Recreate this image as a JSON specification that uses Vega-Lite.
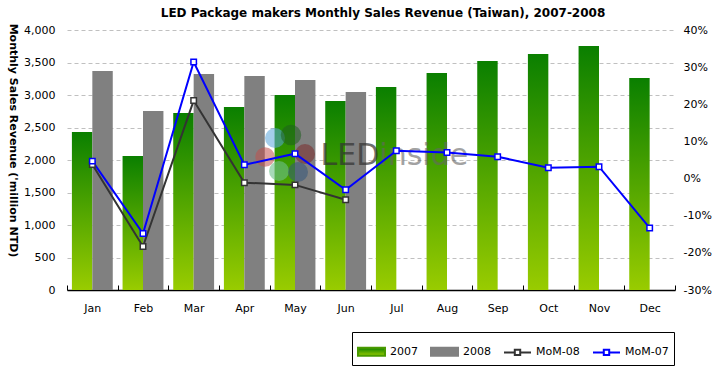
{
  "$schema": "https://vega.github.io/schema/vega-lite/v6.json",
  "width": 608,
  "height": 260,
  "autosize": {"type": "none"},
  "padding": {"left": 67, "top": 30, "right": 45, "bottom": 84},
  "background": "white",
  "config": {
    "font": "DejaVu Sans",
    "view": {"stroke": null},
    "axis": {"labelFont": "DejaVu Sans", "labelFontSize": 11, "labelColor": "#000000", "titleFont": "DejaVu Sans"}
  },
  "title": {
    "text": "LED Package makers Monthly Sales Revenue (Taiwan), 2007-2008",
    "fontSize": 12,
    "fontWeight": "bold",
    "color": "#000000",
    "anchor": "middle",
    "frame": "group",
    "dx": 12,
    "offset": 3
  },
  "datasets": {
    "bars": [
      {"month": "Jan", "series": "2007", "revenue": 2431},
      {"month": "Feb", "series": "2007", "revenue": 2062},
      {"month": "Mar", "series": "2007", "revenue": 2723},
      {"month": "Apr", "series": "2007", "revenue": 2815},
      {"month": "May", "series": "2007", "revenue": 3000},
      {"month": "Jun", "series": "2007", "revenue": 2908},
      {"month": "Jul", "series": "2007", "revenue": 3123},
      {"month": "Aug", "series": "2007", "revenue": 3338},
      {"month": "Sep", "series": "2007", "revenue": 3523},
      {"month": "Oct", "series": "2007", "revenue": 3631},
      {"month": "Nov", "series": "2007", "revenue": 3754},
      {"month": "Dec", "series": "2007", "revenue": 3262},
      {"month": "Jan", "series": "2008", "revenue": 3369},
      {"month": "Feb", "series": "2008", "revenue": 2754},
      {"month": "Mar", "series": "2008", "revenue": 3323},
      {"month": "Apr", "series": "2008", "revenue": 3292},
      {"month": "May", "series": "2008", "revenue": 3231},
      {"month": "Jun", "series": "2008", "revenue": 3046}
    ],
    "mom": [
      {"month": "Jan", "series": "MoM-08", "pct": 0.038},
      {"month": "Feb", "series": "MoM-08", "pct": -0.183},
      {"month": "Mar", "series": "MoM-08", "pct": 0.210},
      {"month": "Apr", "series": "MoM-08", "pct": -0.011},
      {"month": "May", "series": "MoM-08", "pct": -0.017},
      {"month": "Jun", "series": "MoM-08", "pct": -0.057},
      {"month": "Jan", "series": "MoM-07", "pct": 0.047},
      {"month": "Feb", "series": "MoM-07", "pct": -0.148},
      {"month": "Mar", "series": "MoM-07", "pct": 0.314},
      {"month": "Apr", "series": "MoM-07", "pct": 0.037},
      {"month": "May", "series": "MoM-07", "pct": 0.067},
      {"month": "Jun", "series": "MoM-07", "pct": -0.030},
      {"month": "Jul", "series": "MoM-07", "pct": 0.075},
      {"month": "Aug", "series": "MoM-07", "pct": 0.070},
      {"month": "Sep", "series": "MoM-07", "pct": 0.059},
      {"month": "Oct", "series": "MoM-07", "pct": 0.029},
      {"month": "Nov", "series": "MoM-07", "pct": 0.032},
      {"month": "Dec", "series": "MoM-07", "pct": -0.133}
    ]
  },
  "layer": [
    {
      "data": {"name": "bars"},
      "layer": [
        {
          "transform": [{"filter": "datum.series == '2007'"}],
          "mark": {
            "type": "bar",
            "color": {
              "gradient": "linear",
              "x1": 0, "y1": 0, "x2": 0, "y2": 1,
              "stops": [
                {"offset": 0, "color": "#0a7f00"},
                {"offset": 1, "color": "#99cc00"}
              ]
            }
          },
          "encoding": {
            "x": {
              "field": "month",
              "type": "nominal",
              "scale": {"domain": ["Jan","Feb","Mar","Apr","May","Jun","Jul","Aug","Sep","Oct","Nov","Dec"], "paddingInner": 0, "paddingOuter": 0},
              "axis": {
                "title": null,
                "labelAngle": 0,
                "tickBand": "extent",
                "domainColor": "#000000",
                "domainWidth": 1.5,
                "tickColor": "#000000",
                "tickSize": -5,
                "labelPadding": 17,
                "grid": false
              }
            },
            "xOffset": {
              "field": "series",
              "type": "nominal",
              "scale": {"domain": ["2007", "2008"], "paddingInner": 0, "paddingOuter": 0.24}
            },
            "y": {
              "field": "revenue",
              "type": "quantitative",
              "scale": {"domain": [0, 4000]},
              "axis": {
                "title": "Monthly Sales Revenue ('million NTD)",
                "titleAngle": 90,
                "titleX": -55,
                "titleY": 110,
                "titleAlign": "center",
                "titleBaseline": "middle",
                "titleFontSize": 11,
                "titleFontWeight": "bold",
                "titleColor": "#000000",
                "values": [0, 500, 1000, 1500, 2000, 2500, 3000, 3500, 4000],
                "tickCount": 20,
                "labelExpr": "format(datum.value, ',')",
                "labelOverlap": false,
                "grid": true,
                "gridDash": [4, 3],
                "gridColor": "#c0c0c0",
                "domain": false,
                "ticks": false,
                "labelPadding": 12
              }
            }
          }
        },
        {
          "transform": [{"filter": "datum.series == '2008'"}],
          "mark": {"type": "bar", "color": "#808080"},
          "encoding": {
            "x": {"field": "month", "type": "nominal"},
            "xOffset": {"field": "series", "type": "nominal"},
            "y": {"field": "revenue", "type": "quantitative"}
          }
        },
        {
          "data": {"values": [{}]},
          "mark": {"type": "point", "shape": "circle", "filled": true, "size": 400, "color": "#5aa6dc", "opacity": 0.55, "xOffset": -20, "yOffset": -22},
          "encoding": {"x": {"datum": "May", "type": "nominal"}}
        },
        {
          "data": {"values": [{}]},
          "mark": {"type": "point", "shape": "circle", "filled": true, "size": 420, "color": "#1f5f1f", "opacity": 0.55, "xOffset": -4, "yOffset": -25},
          "encoding": {"x": {"datum": "May", "type": "nominal"}}
        },
        {
          "data": {"values": [{}]},
          "mark": {"type": "point", "shape": "circle", "filled": true, "size": 380, "color": "#c0504d", "opacity": 0.55, "xOffset": -30, "yOffset": -3},
          "encoding": {"x": {"datum": "May", "type": "nominal"}}
        },
        {
          "data": {"values": [{}]},
          "mark": {"type": "point", "shape": "circle", "filled": true, "size": 400, "color": "#7a2a2a", "opacity": 0.55, "xOffset": 10, "yOffset": -6},
          "encoding": {"x": {"datum": "May", "type": "nominal"}}
        },
        {
          "data": {"values": [{}]},
          "mark": {"type": "point", "shape": "circle", "filled": true, "size": 400, "color": "#6cc08a", "opacity": 0.6, "xOffset": -16, "yOffset": 11},
          "encoding": {"x": {"datum": "May", "type": "nominal"}}
        },
        {
          "data": {"values": [{}]},
          "mark": {"type": "point", "shape": "circle", "filled": true, "size": 400, "color": "#33557a", "opacity": 0.55, "xOffset": 3, "yOffset": 12},
          "encoding": {"x": {"datum": "May", "type": "nominal"}}
        },
        {
          "data": {"values": [{}]},
          "mark": {"type": "text", "text": "LED", "align": "right", "baseline": "middle", "dx": -17, "dy": -4, "fontSize": 30, "color": "#333333", "opacity": 0.7},
          "encoding": {"x": {"datum": "Jul", "type": "nominal"}}
        },
        {
          "data": {"values": [{}]},
          "mark": {"type": "text", "text": "inside", "align": "left", "baseline": "middle", "dx": -17, "dy": -4, "fontSize": 30, "color": "#666666", "opacity": 0.6},
          "encoding": {"x": {"datum": "Jul", "type": "nominal"}}
        }
      ]
    },
    {
      "data": {"name": "mom"},
      "encoding": {
        "x": {"field": "month", "type": "nominal"},
        "y": {
          "field": "pct",
          "type": "quantitative",
          "scale": {"domain": [-0.3, 0.4]},
          "axis": {
            "orient": "right",
            "title": null,
            "values": [-0.3, -0.2, -0.1, 0, 0.1, 0.2, 0.3, 0.4],
            "tickCount": 20,
            "labelExpr": "round(datum.value * 100) + '%'",
            "labelOverlap": false,
            "grid": false,
            "domain": false,
            "ticks": false,
            "labelPadding": 8
          }
        },
        "color": {
          "field": "series",
          "type": "nominal",
          "scale": {"domain": ["2007", "2008", "MoM-08", "MoM-07"], "range": ["#4a9a00", "#808080", "#333333", "#0000ff"]},
          "legend": {
            "title": null,
            "orient": "none",
            "legendX": 285,
            "legendY": 302,
            "direction": "horizontal",
            "strokeColor": "#000000",
            "fillColor": "#ffffff",
            "padding": 5,
            "columnPadding": 9,
            "labelFont": "DejaVu Sans",
            "labelFontSize": 11,
            "labelColor": "#000000",
            "labelOffset": 4,
            "symbolSize": 729,
            "symbolType": "M-1,-0.3L1,-0.3L1,0.3L-1,0.3Z",
            "encode": {
              "symbols": {
                "update": {
                  "shape": [
                    {"test": "datum.label == '2007' || datum.label == '2008'", "value": "M-1,-0.3L1,-0.3L1,0.3L-1,0.3Z"},
                    {"value": "M-1,0L-0.2,0M0.2,0L1,0M-0.2,-0.2L0.2,-0.2L0.2,0.2L-0.2,0.2Z"}
                  ],
                  "fill": [
                    {"test": "datum.label == '2007'", "value": {"gradient": "linear", "x1": 0, "y1": 0, "x2": 0, "y2": 1, "stops": [{"offset": 0, "color": "#0a7f00"}, {"offset": 1, "color": "#99cc00"}]}},
                    {"test": "datum.label == '2008'", "value": "#808080"},
                    {"value": "#ffffff"}
                  ],
                  "stroke": [
                    {"test": "datum.label == '2007' || datum.label == '2008'", "value": "transparent"},
                    {"test": "datum.label == 'MoM-08'", "value": "#333333"},
                    {"value": "#0000ff"}
                  ],
                  "strokeWidth": {"value": 2},
                  "opacity": {"value": 1}
                }
              }
            }
          }
        }
      },
      "layer": [
        {"mark": {"type": "line", "strokeWidth": 2}},
        {"mark": {"type": "point", "shape": "square", "filled": false, "fill": "#ffffff", "size": 30, "strokeWidth": 1.5, "opacity": 1}}
      ]
    }
  ],
  "resolve": {"scale": {"y": "independent"}}
}
